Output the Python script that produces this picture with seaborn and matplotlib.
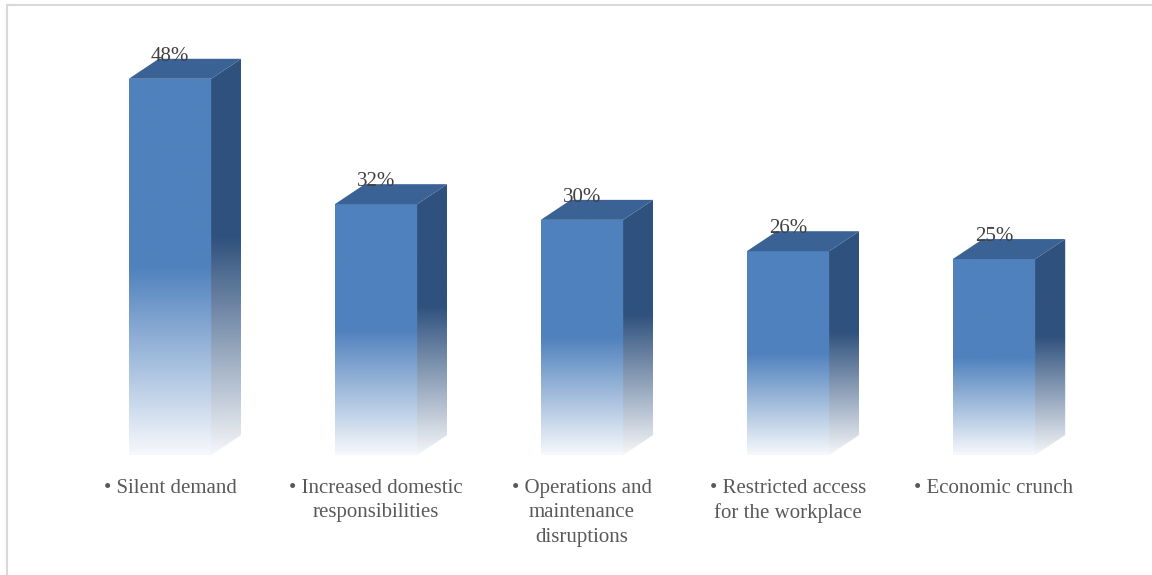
import numpy as np
import pandas as pd
import seaborn as sns
import matplotlib.pyplot as plt
from matplotlib.patches import Polygon, Rectangle
from matplotlib.colors import to_rgb

# data
categories = ["• Silent demand",
              "• Increased domestic\nresponsibilities",
              "• Operations and\nmaintenance\ndisruptions",
              "• Restricted access\nfor the workplace",
              "• Economic crunch"]
values = [48, 32, 30, 26, 25]

df = pd.DataFrame({"cause": categories, "share": values})

sns.set_theme(style="white")
plt.rcParams['font.family'] = ['Liberation Serif', 'DejaVu Serif']

front_col = "#4F81BD"
side_col = "#2F517D"
top_col = "#3A6294"

fig = plt.figure(figsize=(11.52, 5.75), dpi=100)
ax = fig.add_axes([67 / 1152, 120 / 575, 1030 / 1152, 435 / 575])

sns.barplot(data=df, x="cause", y="share", color=front_col, width=0.4,
            saturation=1, ax=ax)

xlim = (-0.5, 4.5)
ylim = (0, 55.5)
# depth of the fake 3d box, in pixels converted to data units
px_x = 1030 / (xlim[1] - xlim[0])
px_y = 435 / (ylim[1] - ylim[0])
dx = 30 / px_x
dy = 20 / px_y


def fade(color, start=0.5, n=256):
    # vertical gradient: white at bottom, full colour from `start` upwards
    t = np.linspace(0, 1, n)
    a = np.clip(t / start, 0, 1) * 0.95 + 0.05
    a = np.where(t >= start, 1.0, a)
    c = np.array(to_rgb(color))
    img = a[:, None] * c[None, :] + (1 - a[:, None]) * np.ones(3)[None, :]
    return img[:, None, :]


for p in list(ax.patches):
    x0 = p.get_x()
    w = p.get_width()
    h = p.get_height()
    x1 = x0 + w
    p.set_facecolor("none")
    p.set_edgecolor("none")

    im = ax.imshow(fade(front_col, 0.5), extent=[x0, x1, 0, h], origin="lower",
                   aspect="auto", zorder=2)
    im.set_clip_path(p)

    side = Polygon([(x1, 0), (x1 + dx, dy), (x1 + dx, h + dy), (x1, h)],
                   closed=True, facecolor="none", edgecolor="none")
    ax.add_patch(side)
    im2 = ax.imshow(fade(side_col, 0.55), extent=[x1, x1 + dx, 0, h + dy],
                    origin="lower", aspect="auto", zorder=2)
    im2.set_clip_path(side)

    top = Polygon([(x0, h), (x0 + dx, h + dy), (x1 + dx, h + dy), (x1, h)],
                  closed=True, facecolor=top_col, edgecolor="none", zorder=3)
    ax.add_patch(top)

    ax.annotate(f"{int(round(h))}%", (x0 + w / 2, h), xytext=(0, 16),
                textcoords="offset points", ha="center", va="center",
                fontsize=15, color="#404040", zorder=4)

ax.set_xlim(*xlim)
ax.set_ylim(*ylim)
ax.set_xlabel("")
ax.set_ylabel("")
ax.set_yticks([])
ax.tick_params(axis="x", length=0, pad=17)
for lab in ax.get_xticklabels():
    lab.set_fontsize(15)
    lab.set_color("#595959")
    lab.set_multialignment("center")
    lab.set_verticalalignment("top")
    lab.set_linespacing(1.4)
sns.despine(ax=ax, left=True, bottom=True)

# light grey frame of the chart area
fig.patches.append(Rectangle((7 / 1152, -0.1), 1.3, 1.1 - 5 / 575,
                             transform=fig.transFigure, fill=False,
                             edgecolor="#d9d9d9", linewidth=1.5))

fig.savefig("out.png", dpi=100)
